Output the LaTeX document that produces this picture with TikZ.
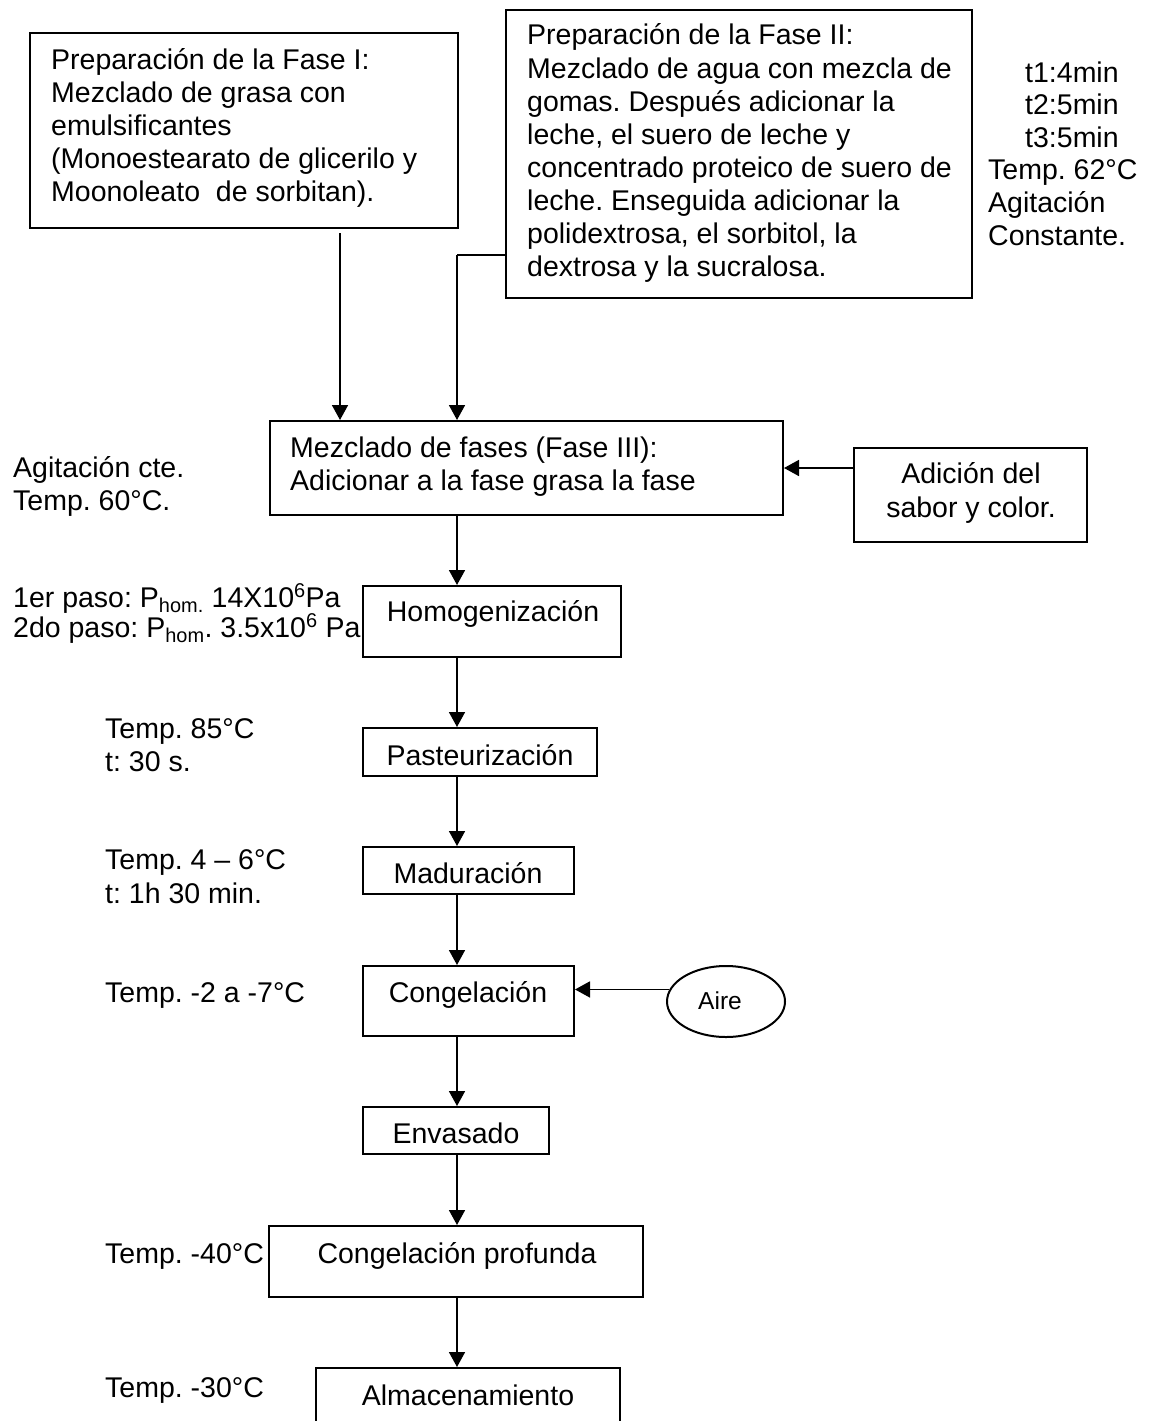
\documentclass[tikz,border=0pt]{standalone}
\usepackage{fontspec}
\setmainfont{Liberation Sans}
\usetikzlibrary{arrows.meta,shapes.geometric}
\frenchspacing

% left-aligned and centred stacks of lines; the baseline is the first line's
\newcommand\leftlines[2]{\vtop{\baselineskip=#1\lineskiplimit=-100pt\lineskip=0pt\halign{##\hfil\cr#2\crcr}}}
\newcommand\midlines[2]{\vtop{\baselineskip=#1\lineskiplimit=-100pt\lineskip=0pt\halign{\hfil##\hfil\cr#2\crcr}}}

\tikzset{
  box/.style={draw=black, line width=2pt, rectangle, inner sep=0pt, fill=white},
  oval/.style={draw=black, line width=2pt, ellipse, inner sep=0pt, fill=white},
  txt/.style={inner sep=0pt, font=\fontsize{28.5pt}{33pt}\selectfont, text=black},
  arr/.style={draw=black, line width=1.7pt, -{Triangle[length=15pt,width=16pt]}},
}

\begin{document}
\begin{tikzpicture}[x=1pt,y=-1pt]
\useasboundingbox (0,0) rectangle (1152,1421);
\clip (0,0) rectangle (1152,1421);
\fill[white] (0,0) rectangle (1152,1421);

% ---- boxes of the process ----
\node[box, minimum width=428pt, minimum height=195pt] (f1) at (244,130.5) {};
\node[box, minimum width=466pt, minimum height=288pt] (f2) at (739,154) {};
\node[box, minimum width=513pt, minimum height=94pt] (mix) at (526.5,468) {};
\node[box, minimum width=233pt, minimum height=94pt] (ad) at (970.5,495) {};
\node[box, minimum width=258pt, minimum height=71pt] (homog) at (492,621.5) {};
\node[box, minimum width=234pt, minimum height=48pt] (past) at (480,752) {};
\node[box, minimum width=211pt, minimum height=47pt] (mad) at (468.5,870.5) {};
\node[box, minimum width=211pt, minimum height=70pt] (cong) at (468.5,1001) {};
\node[oval, minimum width=118pt, minimum height=71pt] (aire) at (726,1001.5) {};
\node[box, minimum width=186pt, minimum height=47pt] (env) at (456,1130.5) {};
\node[box, minimum width=374pt, minimum height=71pt] (cp) at (456,1261.5) {};
\node[box, minimum width=304pt, minimum height=82pt] (alm) at (468,1409) {};

% ---- texts inside the boxes ----
\node[txt, anchor=base west] (f1-t) at (51,70) {\leftlines{33pt}{%
Preparación de la Fase I:\cr
Mezclado de grasa con\cr
emulsificantes\cr
(Monoestearato de glicerilo y\cr
Moonoleato\ \ de sorbitan).}};
\node[txt, anchor=base west] (f2-t) at (527,45) {\leftlines{33.1pt}{%
Preparación de la Fase II:\cr
Mezclado de agua con mezcla de\cr
gomas. Después adicionar la\cr
leche, el suero de leche y\cr
concentrado proteico de suero de\cr
leche. Enseguida adicionar la\cr
polidextrosa, el sorbitol, la\cr
dextrosa y la sucralosa.}};
\node[txt, anchor=base west] (mix-t) at (290,457) {\leftlines{33pt}{%
Mezclado de fases (Fase III):\cr
Adicionar a la fase grasa la fase}};
\node[txt, anchor=base] (ad-t) at (971,483) {\midlines{34pt}{%
Adición del\cr
sabor y color.}};
\node[txt, anchor=base] (homog-t) at (493,621) {Homogenización};
\node[txt, anchor=base] (past-t) at (480,765) {Pasteurización};
\node[txt, anchor=base] (mad-t) at (468,883) {Maduración};
\node[txt, anchor=base] (cong-t) at (468,1002) {Congelación};
\node[txt, anchor=base, font=\fontsize{24.5pt}{28pt}\selectfont] (aire-t) at (720,1009) {Aire};
\node[txt, anchor=base] (env-t) at (456,1143) {Envasado};
\node[txt, anchor=base] (cp-t) at (457,1263) {Congelación profunda};
\node[txt, anchor=base] (alm-t) at (468,1405) {Almacenamiento};

% ---- process conditions ----
\node[txt, anchor=base west] (cond-f2) at (988,82) {\leftlines{32.6pt}{%
\hspace*{37pt}t1:4min\cr
\hspace*{37pt}t2:5min\cr
\hspace*{37pt}t3:5min\cr
Temp. 62°C\cr
Agitación\cr
Constante.}};
\node[txt, anchor=base west] (cond-mix) at (13,477) {\leftlines{33pt}{%
Agitación cte.\cr
Temp. 60°C.}};
\node[txt, anchor=base west] (cond-homog) at (13,607) {\leftlines{30pt}{%
1er paso: P\textsubscript{hom.} 14X10\textsuperscript{6}Pa\cr
2do paso: P\textsubscript{hom}. 3.5x10\textsuperscript{6} Pa}};
\node[txt, anchor=base west] (cond-past) at (105,738) {\leftlines{33pt}{%
Temp. 85°C\cr
t: 30 s.}};
\node[txt, anchor=base west] (cond-mad) at (105,869) {\leftlines{34pt}{%
Temp. 4 – 6°C\cr
t: 1h 30 min.}};
\node[txt, anchor=base west] (cond-cong) at (105,1002) {Temp. -2 a -7°C};
\node[txt, anchor=base west] (cond-cp) at (105,1263) {Temp. -40°C};
\node[txt, anchor=base west] (cond-alm) at (105,1397) {Temp. -30°C};

% ---- guide coordinates for the connectors ----
\coordinate (x1) at (340,0);
\coordinate (x2) at (457,255);
\coordinate (sp) at (457,0);
\coordinate (yA) at (0,468);

% ---- connectors ----
\draw[arr] ([yshift=-4pt]f1.south -| x1) -- (x1 |- mix.north);
\draw[line width=1.7pt] (x2 -| f2.west) -- (x2);
\draw[arr] (x2) -- (x2 |- mix.north);
\draw[arr] (ad.west |- yA) -- (mix.east |- yA);
\draw[arr] (sp |- mix.south) -- (sp |- homog.north);
\draw[arr] (sp |- homog.south) -- (sp |- past.north);
\draw[arr] (sp |- past.south) -- (sp |- mad.north);
\draw[arr] (sp |- mad.south) -- (sp |- cong.north);
\draw[arr] (aire.168) -- (aire.168 -| cong.east);
\draw[arr] (sp |- cong.south) -- (sp |- env.north);
\draw[arr] (sp |- env.south) -- (sp |- cp.north);
\draw[arr] (sp |- cp.south) -- (sp |- alm.north);
\end{tikzpicture}
\end{document}
